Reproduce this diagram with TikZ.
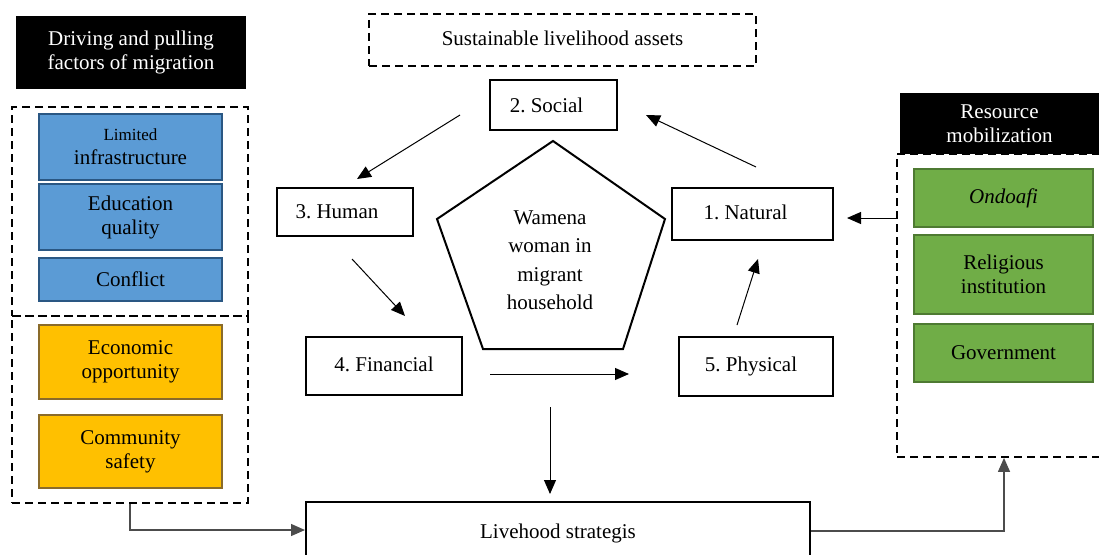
\documentclass[tikz,border=0pt]{standalone}
\usepackage{fontspec}
\setmainfont{Liberation Serif}
\usetikzlibrary{arrows.meta}
\frenchspacing
\definecolor{bluef}{HTML}{5B9BD5}
\definecolor{blued}{HTML}{2A5783}
\definecolor{yelf}{HTML}{FFC000}
\definecolor{yeld}{HTML}{8A6B2A}
\definecolor{grnf}{HTML}{70AD47}
\definecolor{grnd}{HTML}{4E7A32}
\tikzset{
  txt/.style={font=\fontsize{21}{24}\selectfont, align=center},
  plain/.style={draw=black, line width=2pt, fill=white, txt, inner sep=0pt},
  blackbox/.style={fill=black, text=white, txt, inner sep=0pt},
  dashbox/.style={draw=black, line width=1.8pt, dash pattern=on 8pt off 5pt, inner sep=0pt},
  bluebox/.style={fill=bluef, draw=blued, line width=1.8pt, txt, inner sep=0pt, minimum width=183pt},
  yelbox/.style={fill=yelf, draw=yeld, line width=1.8pt, txt, inner sep=0pt, minimum width=183pt},
  grnbox/.style={fill=grnf, draw=grnd, line width=1.8pt, txt, inner sep=0pt, minimum width=179pt},
  arr/.style={draw=black, line width=1pt, -{Triangle[length=14pt,width=12pt]}},
  arrg/.style={line width=1.3pt, -{Triangle[length=14pt,width=12pt]}, draw=black!70},
}
\begin{document}
\begin{tikzpicture}[x=1pt,y=-1pt]
\useasboundingbox (0,0) rectangle (1099,554);
\clip (0,0) rectangle (1099,554);

% left side
\node[blackbox, minimum width=230pt, minimum height=73pt] (drv) at (131,52.5) {\frenchspacing Driving and pulling\\factors of migration};
\node[dashbox, minimum width=236pt, minimum height=209pt] (leftA) at (130,211.5) {};
\node[dashbox, minimum width=236pt, minimum height=187pt] (leftB) at (130,409.5) {};
\node[bluebox, minimum height=66pt] (lim) at (130.5,147) {{\fontsize{17}{21}\selectfont Limited}\\infrastructure};
\node[bluebox, minimum height=66pt] (edu) at (130.5,217) {Education\\quality};
\node[bluebox, minimum height=43pt] (con) at (130.5,279.5) {Conflict};
\node[yelbox, minimum height=74pt] (eco) at (130.5,362) {Economic\\opportunity};
\node[yelbox, minimum height=73pt] (com) at (130.5,451.5) {Community\\safety};

% center
\node[dashbox, minimum width=387pt, minimum height=52pt, txt] (sla) at (562.5,40) {\raisebox{4pt}{Sustainable livelihood assets}};
\node[plain, minimum width=127pt, minimum height=50pt] (social) at (553.5,105) {\frenchspacing\hspace*{-14pt}2. Social};
\node[plain, minimum width=136pt, minimum height=48pt] (human) at (345,212) {\frenchspacing\hspace*{-16pt}3. Human};
\node[plain, minimum width=161pt, minimum height=52pt] (natural) at (752.5,214) {\frenchspacing\hspace*{-14pt}\raisebox{3pt}{1. Natural}};
\node[plain, minimum width=156pt, minimum height=58pt] (financial) at (384,366) {\frenchspacing\raisebox{3pt}{4. Financial}};
\node[plain, minimum width=154pt, minimum height=59pt] (physical) at (756,366.5) {\frenchspacing\hspace*{-10pt}5. Physical};
\draw[line width=2pt, line join=miter] (553,141) -- (665,219) -- (623,349) -- (483,349) -- (437,219) -- cycle;
\node[txt, font=\fontsize{21}{28.5}\selectfont] (wam) at (550,260) {Wamena\\woman in\\migrant\\household};
\node[plain, minimum width=504pt, minimum height=62pt] (live) at (558,533) {\raisebox{3pt}{Livehood strategis}};

% right side
\node[blackbox, minimum width=205pt, minimum height=61pt] (res) at (1002.5,123.5) {\hspace*{-6pt}Resource\\\hspace*{-6pt}mobilization};
\node[dashbox, minimum width=210pt, minimum height=303pt] (resbox) at (1002,305.5) {};
\node[grnbox, minimum height=58pt] (ond) at (1003.5,198) {\itshape Ondoafi};
\node[grnbox, minimum height=79pt] (rel) at (1003.5,274.5) {Religious\\institution};
\node[grnbox, minimum height=58pt] (gov) at (1003.5,353) {Government};

% arrow end points
\coordinate (a1s) at (460,115); \coordinate (a1e) at (357,179);
\coordinate (a2s) at (352,259); \coordinate (a2e) at (405,316);
\coordinate (a3s) at (490,374); \coordinate (a3e) at (629,374);
\coordinate (a4s) at (737,325); \coordinate (a4e) at (758,259);
\coordinate (a5s) at (756,167); \coordinate (a5e) at (646,115);
\coordinate (a6s) at (550,407); \coordinate (a6e) at (550,494);
\coordinate (a7e) at (847,218);

\draw[arr] (a1s) -- (a1e);
\draw[arr] (a2s) -- (a2e);
\draw[arr] (a3s) -- (a3e);
\draw[arr] (a4s) -- (a4e);
\draw[arr] (a5s) -- (a5e);
\draw[arr] (a6s) -- (a6e);
\draw[arr] (resbox.west |- a7e) -- (a7e);
\draw[arrg] (leftB.south -| 130,0) -- (130,530) -- (live.west |- 0,530);
\draw[arrg] (live.east |- 0,531) -- (1004,531) -- (resbox.south -| 1004,0);
\end{tikzpicture}
\end{document}
